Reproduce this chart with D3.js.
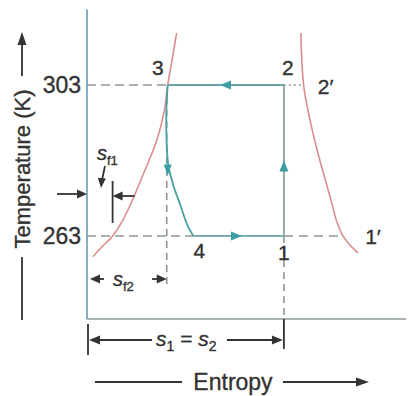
<!DOCTYPE html>
<html>
<head>
<meta charset="utf-8">
<script src="https://cdn.jsdelivr.net/npm/d3@7"></script>
<style>
  html, body { margin: 0; padding: 0; background: #fff; }
  svg { display: block; }
  text { font-family: "Liberation Sans", Arial, sans-serif; fill: #333; stroke: #333; stroke-width: 0.35px; }
</style>
</head>
<body>
<svg id="chart" width="408" height="396"></svg>
<script>
// Vapour-compression refrigeration cycle on a T–s diagram
const tempTicks = [263, 303];          // evaporator / condenser temperatures (K)
const T_low = 263, T_high = 303;
const s_1 = 1.0;                       // s1 = s2 (isentropic compression)
const s_f1 = 0.13;                     // liquid entropy at 263 K
const s_f2 = 0.41;                     // liquid entropy at 303 K (state 3)
const s_4 = 0.54;                      // after throttling
const s_2p = 1.10;                     // saturated vapour at 303 K (2')
const s_1p = 1.30;                     // saturated vapour at 263 K (1')

// saturated liquid line [s, T]
const satLiquid = [[0.03,257.5],[0.07,259.8],[0.13,263],[0.18,267],[0.235,273],
  [0.295,280.5],[0.355,288.4],[0.392,296],[0.41,303],[0.432,309.6],[0.455,316.8]];
// saturated vapour line [s, T]
const satVapour = [[1.086,316.8],[1.10,303],[1.127,295.1],[1.162,287.1],[1.203,279.2],
  [1.239,272.5],[1.269,266.7],[1.30,263],[1.335,260.6],[1.376,258.5]];
// throttling 3 -> 4 [s, T]
const throttle = [[0.41,303],[0.403,296.4],[0.404,288.4],[0.413,281.8],[0.438,276.5],
  [0.474,271.2],[0.51,265.9],[0.54,263]];

const svg = d3.select("#chart");
const x = d3.scaleLinear().domain([0, 1.62]).range([87, 406]);
const y = d3.scaleLinear().domain([241, 323]).range([319, 9.5]);

const cycleCol = "#6aa3a6", arrowCol = "#3c9ea1", dashCol = "#8c9696",
      satCol = "#d98e8c", inkCol = "#333";

function arrowHead(g, px, py, angleDeg, len, wid, col) {
  const a = angleDeg * Math.PI / 180;
  const ux = Math.cos(a), uy = Math.sin(a);
  const bx = px - ux * len, by = py - uy * len;
  const pts = [[px, py], [bx - uy * wid / 2, by + ux * wid / 2], [bx + uy * wid / 2, by - ux * wid / 2]];
  g.append("path").attr("d", "M" + pts.map(p => p.join(",")).join("L") + "Z").attr("fill", col);
}

const line = d3.line().x(d => x(d[0])).y(d => y(d[1])).curve(d3.curveCatmullRom.alpha(0.5));

// axes
svg.append("line").attr("x1", x(0)).attr("x2", x(0)).attr("y1", y(323)).attr("y2", y(241))
  .attr("stroke", "#6b98b8").attr("stroke-width", 1.6);
svg.append("line").attr("x1", x(0)).attr("x2", x(1.62)).attr("y1", y(241)).attr("y2", y(241))
  .attr("stroke", "#8d9a9e").attr("stroke-width", 1.6);

// temperature tick labels
svg.selectAll(".tick").data(tempTicks).join("text")
  .attr("x", x(0) - 6).attr("y", d => y(d)).attr("dy", "0.36em")
  .attr("text-anchor", "end").attr("font-size", 23).text(d => d);

// dashed guide lines
const dash = (x1, y1, x2, y2, da) => svg.append("line")
  .attr("x1", x1).attr("y1", y1).attr("x2", x2).attr("y2", y2)
  .attr("stroke", dashCol).attr("stroke-width", 1.6).attr("stroke-dasharray", da);
dash(x(0), y(T_high), x(s_f2), y(T_high), "9,5");
dash(x(0), y(T_low), x(s_4), y(T_low), "9,5");
dash(x(s_1), y(T_low), x(s_1p), y(T_low), "9,6");
dash(x(s_1), y(T_high), x(s_2p), y(T_high), "2,3");
dash(x(s_f2) - 1, y(T_high) + 12, x(s_f2) - 1, 286, "7,5");
dash(x(s_1), y(T_low), x(s_1), y(241), "7,5");

// saturation dome
svg.append("path").datum(satLiquid).attr("d", line).attr("fill", "none")
  .attr("stroke", satCol).attr("stroke-width", 1.6);
svg.append("path").datum(satVapour).attr("d", line).attr("fill", "none")
  .attr("stroke", satCol).attr("stroke-width", 1.6);

// cycle 1-2-3-4
const cyc = svg.append("g");
cyc.append("line").attr("x1", x(s_1)).attr("x2", x(s_1)).attr("y1", y(T_low)).attr("y2", y(T_high))
  .attr("stroke", "#8fa3a3").attr("stroke-width", 1.8);
cyc.append("line").attr("x1", x(s_1)).attr("x2", x(s_f2)).attr("y1", y(T_high)).attr("y2", y(T_high))
  .attr("stroke", cycleCol).attr("stroke-width", 1.8);
cyc.append("path").datum(throttle).attr("d", line).attr("fill", "none")
  .attr("stroke", "#4aa0a2").attr("stroke-width", 1.8);
cyc.append("line").attr("x1", x(s_4)).attr("x2", x(s_1)).attr("y1", y(T_low)).attr("y2", y(T_low))
  .attr("stroke", cycleCol).attr("stroke-width", 1.8);
arrowHead(cyc, x(s_1), y(283), -90, 11, 9, arrowCol);
arrowHead(cyc, 220, y(T_high), 180, 11, 9, arrowCol);
arrowHead(cyc, x(0.41), y(279), 90, 11, 8, arrowCol);
arrowHead(cyc, 242, y(T_low), 0, 11, 9, arrowCol);

// state labels
const lab = (t, lx, ly) => svg.append("text").attr("x", lx).attr("y", ly)
  .attr("text-anchor", "middle").attr("font-size", 21).text(t);
lab("3", x(s_f2) - 10, y(T_high) - 10);
lab("2", x(s_1) + 4, y(T_high) - 10);
lab("2\u2032", x(s_2p) + 22, y(T_high) + 9);
lab("1", x(s_1), y(T_low) + 24);
lab("1\u2032", x(s_1p) + 30, y(T_low) + 8);
lab("4", x(s_4) + 6, y(T_low) + 22);

// s_f1 dimension
const dim = svg.append("g").attr("stroke", inkCol).attr("stroke-width", 1.8);
dim.append("line").attr("x1", 57).attr("x2", x(0) - 6).attr("y1", 194).attr("y2", 194);
arrowHead(svg, x(0), 194, 0, 10, 9, inkCol);
dim.append("line").attr("x1", x(s_f1)).attr("x2", x(s_f1)).attr("y1", 181).attr("y2", 223);
dim.append("line").attr("x1", x(s_f1) + 8).attr("x2", x(s_f1) + 22).attr("y1", 196).attr("y2", 196);
arrowHead(svg, x(s_f1), 196, 180, 10, 9, inkCol);
dim.append("line").attr("x1", 105).attr("x2", 102).attr("y1", 166).attr("y2", 180);
arrowHead(svg, 101, 188, 95, 10, 8, inkCol);
const sf1t = svg.append("text").attr("x", 97).attr("y", 160).attr("font-size", 20);
sf1t.append("tspan").attr("font-style", "italic").text("s");
sf1t.append("tspan").attr("font-size", 13).attr("dy", 5).text("f1");

// s_f2 dimension
dim.append("line").attr("x1", x(0) + 8).attr("x2", 104).attr("y1", 279).attr("y2", 279);
arrowHead(svg, x(0) + 3, 279, 180, 10, 9, inkCol);
dim.append("line").attr("x1", 152).attr("x2", x(s_f2) - 6).attr("y1", 279).attr("y2", 279);
arrowHead(svg, x(s_f2) - 1, 279, 0, 10, 9, inkCol);
const sf2t = svg.append("text").attr("x", 113).attr("y", 286).attr("font-size", 20);
sf2t.append("tspan").attr("font-style", "italic").text("s");
sf2t.append("tspan").attr("font-size", 13).attr("dy", 5).text("f2");

// s1 = s2 dimension
dim.append("line").attr("x1", x(0) + 1).attr("x2", x(0) + 1).attr("y1", 324).attr("y2", 355);
dim.append("line").attr("x1", x(s_1)).attr("x2", x(s_1)).attr("y1", y(241)).attr("y2", 349);
dim.append("line").attr("x1", x(0) + 8).attr("x2", 152).attr("y1", 340).attr("y2", 340);
arrowHead(svg, x(0) + 2, 340, 180, 11, 9, inkCol);
dim.append("line").attr("x1", 227).attr("x2", x(s_1) - 6).attr("y1", 340).attr("y2", 340);
arrowHead(svg, x(s_1) - 1, 340, 0, 11, 9, inkCol);
const s12 = svg.append("text").attr("x", 156).attr("y", 346).attr("font-size", 21);
s12.append("tspan").attr("font-style", "italic").text("s");
s12.append("tspan").attr("font-size", 14).attr("dy", 5).text("1");
s12.append("tspan").attr("dy", -5).text(" = ");
s12.append("tspan").attr("font-style", "italic").text("s");
s12.append("tspan").attr("font-size", 14).attr("dy", 5).text("2");

// axis titles
svg.append("text").attr("x", 233).attr("y", 390).attr("text-anchor", "middle")
  .attr("font-size", 23).text("Entropy");
dim.append("line").attr("x1", 95).attr("x2", 182).attr("y1", 382).attr("y2", 382);
dim.append("line").attr("x1", 283).attr("x2", 358).attr("y1", 382).attr("y2", 382);
arrowHead(svg, 369, 382, 0, 13, 9, inkCol);

svg.append("text").attr("transform", "translate(30,169) rotate(-90)")
  .attr("text-anchor", "middle").attr("font-size", 22).text("Temperature (K)");
dim.append("line").attr("x1", 22).attr("x2", 22).attr("y1", 257).attr("y2", 320);
dim.append("line").attr("x1", 22).attr("x2", 22).attr("y1", 76).attr("y2", 44);
arrowHead(svg, 22, 32, -90, 13, 9, inkCol);
</script>
</body>
</html>
